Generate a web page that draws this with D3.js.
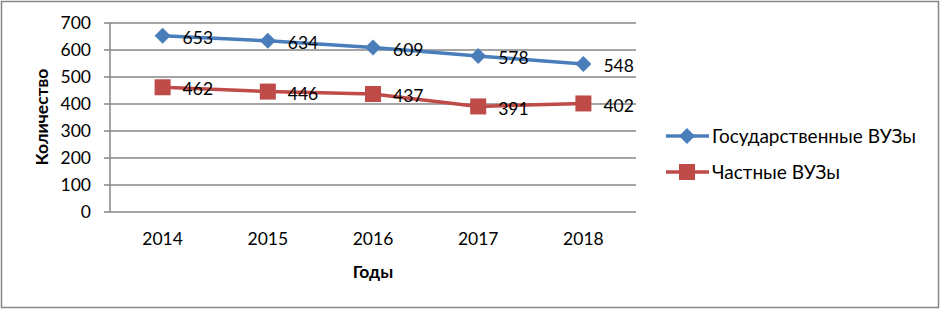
<!DOCTYPE html>
<html><head><meta charset="utf-8">
<script src="https://cdn.jsdelivr.net/npm/d3@7/dist/d3.min.js"></script>
<style>body{margin:0;background:#fff}text{font-family:Lato,"Open Sans",sans-serif}</style>
</head><body><svg id="c" width="940" height="309"></svg>
<script>
const years = ["2014","2015","2016","2017","2018"];
const gov = [653,634,609,578,548];
const priv = [462,446,437,391,402];
const yTicks = [0,100,200,300,400,500,600,700];
const seriesNames = ["Государственные ВУЗы","Частные ВУЗы"];
const colors = ["#4A7EBB","#BE4B48"];
const FS = 17.5;

const svg = d3.select("#c");
svg.append("rect").attr("x",1.5).attr("y",1.5).attr("width",937).attr("height",306)
  .attr("fill","#fff").attr("stroke","#868686").attr("stroke-width",1.5);

const x = d3.scaleBand().domain(years).range([110,636]);
const y = d3.scaleLinear().domain([0,700]).range([212,23]);

const grid = svg.append("g");
yTicks.forEach(t=>{
  grid.append("line").attr("x1",104).attr("x2",636).attr("y1",y(t)).attr("y2",y(t))
    .attr("stroke","#868686").attr("stroke-width",1.5);
  svg.append("text").attr("x",91).attr("y",y(t)).attr("dy","0.35em").attr("text-anchor","end")
    .attr("font-size",FS).attr("fill","#000").text(t);
});
svg.append("line").attr("x1",110).attr("x2",110).attr("y1",y(700)).attr("y2",y(0))
  .attr("stroke","#868686").attr("stroke-width",1.5);

years.forEach(yr=>{
  svg.append("text").attr("x",x(yr)+x.bandwidth()/2).attr("y",239).attr("dy","0.35em")
    .attr("text-anchor","middle").attr("font-size",FS).text(yr);
});

svg.append("text").attr("x",373).attr("y",272).attr("dy","0.35em").attr("text-anchor","middle")
  .attr("font-size",FS).attr("font-weight","bold").text("Годы");
svg.append("text").attr("transform","translate(42,117) rotate(-90)").attr("dy","0.35em")
  .attr("text-anchor","middle").attr("font-size",FS).attr("font-weight","bold").text("Количество");

const cx = d => x(d)+x.bandwidth()/2;
const line = d3.line().x((d,i)=>cx(years[i])).y(d=>y(d));
const data = [gov, priv];

function marker(g, k, px, py){
  if(k===0){
    g.append("path").attr("d","M0,-8L8,0L0,8L-8,0Z").attr("transform",`translate(${px},${py})`)
      .attr("fill",colors[0]);
  } else {
    g.append("rect").attr("x",px-8).attr("y",py-8).attr("width",16).attr("height",16)
      .attr("fill",colors[1]);
  }
}

data.forEach((vals,k)=>{
  const g = svg.append("g");
  g.append("path").datum(vals).attr("d",line).attr("fill","none")
    .attr("stroke",colors[k]).attr("stroke-width",3.5);
  vals.forEach((v,i)=>marker(g,k,cx(years[i]),y(v)));
  vals.forEach((v,i)=>{
    g.append("text").attr("x",cx(years[i])+20).attr("y",y(v)+2).attr("dy","0.35em")
      .attr("font-size",FS).attr("fill","#000").text(v);
  });
});

seriesNames.forEach((n,k)=>{
  const ly = 136 + k*36;
  svg.append("line").attr("x1",666).attr("x2",709).attr("y1",ly).attr("y2",ly)
    .attr("stroke",colors[k]).attr("stroke-width",3.5);
  marker(svg,k,687,ly);
  svg.append("text").attr("x",712).attr("y",ly).attr("dy","0.35em").attr("font-size",19).text(n);
});
</script></body></html>
